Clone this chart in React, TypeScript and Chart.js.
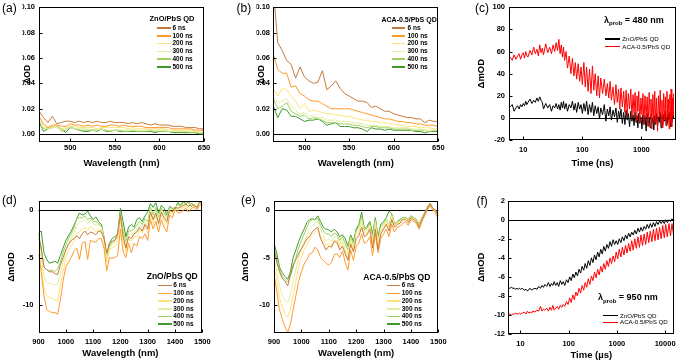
import React, { useEffect, useRef } from "react";
import { Chart, registerables } from "chart.js";

Chart.register(...registerables);

const FONT = "'Liberation Sans', Arial, Helvetica, sans-serif";
Chart.defaults.font.family = FONT;
Chart.defaults.color = "#000";

// ---------------- data ----------------
const delayLabels = ["6 ns", "100 ns", "200 ns", "300 ns", "400 ns", "500 ns"];

const wlVis = [465, 470, 475, 480, 485, 490, 495, 500, 505, 510, 515, 520, 525, 530, 535, 540, 545, 550, 555, 560, 565, 570, 575, 580, 585, 590, 595, 600, 605, 610, 615, 620, 625, 630, 635, 640, 645, 650];

// (a) ZnO/PbS QD, visible
const a6 = [0.018, 0.013, 0.009, 0.014, 0.008, 0.009, 0.010, 0.010, 0.009, 0.010, 0.009, 0.010, 0.009, 0.010, 0.009, 0.009, 0.010, 0.009, 0.009, 0.009, 0.008, 0.009, 0.008, 0.009, 0.008, 0.007, 0.008, 0.007, 0.007, 0.007, 0.006, 0.006, 0.006, 0.005, 0.005, 0.005, 0.004, 0.004];
const a100 = [0.014, 0.008, 0.005, 0.007, 0.007, 0.006, 0.006, 0.008, 0.007, 0.007, 0.006, 0.007, 0.006, 0.007, 0.006, 0.006, 0.007, 0.007, 0.006, 0.007, 0.006, 0.006, 0.006, 0.006, 0.005, 0.005, 0.005, 0.005, 0.005, 0.005, 0.004, 0.004, 0.004, 0.004, 0.004, 0.003, 0.003, 0.003];
const a200 = [0.012, 0.006, 0.004, 0.006, 0.006, 0.004, 0.005, 0.006, 0.006, 0.005, 0.005, 0.005, 0.005, 0.004, 0.005, 0.005, 0.005, 0.005, 0.005, 0.005, 0.004, 0.005, 0.004, 0.004, 0.004, 0.004, 0.004, 0.004, 0.004, 0.003, 0.003, 0.003, 0.003, 0.003, 0.003, 0.002, 0.002, 0.002];
const a300 = [0.011, 0.005, 0.004, 0.005, 0.005, 0.003, 0.004, 0.005, 0.004, 0.004, 0.004, 0.004, 0.003, 0.003, 0.004, 0.003, 0.003, 0.003, 0.003, 0.003, 0.003, 0.003, 0.003, 0.003, 0.003, 0.003, 0.003, 0.003, 0.003, 0.002, 0.002, 0.002, 0.002, 0.002, 0.002, 0.002, 0.001, 0.001];
const a400 = [0.008, 0.004, 0.005, 0.006, 0.006, 0.002, 0.003, 0.006, 0.004, 0.003, 0.003, 0.003, 0.003, 0.003, 0.004, 0.003, 0.002, 0.003, 0.003, 0.002, 0.002, 0.003, 0.002, 0.002, 0.002, 0.003, 0.002, 0.002, 0.002, 0.002, 0.002, 0.002, 0.002, 0.002, 0.001, 0.001, 0.001, 0.001];
const a500 = [0.010, 0.002, 0.004, 0.005, 0.006, 0.004, 0.001, 0.005, 0.004, 0.003, 0.002, 0.002, 0.003, 0.002, 0.004, 0.002, 0.002, 0.003, 0.002, 0.002, 0.002, 0.002, 0.002, 0.002, 0.002, 0.002, 0.001, 0.002, 0.002, 0.002, 0.001, 0.001, 0.001, 0.001, 0.001, 0.001, 0.000, 0.000];

// (b) ACA-0.5/PbS QD, visible
const b6 = [0.115, 0.072, 0.066, 0.058, 0.055, 0.044, 0.053, 0.045, 0.042, 0.040, 0.041, 0.050, 0.035, 0.038, 0.042, 0.036, 0.032, 0.030, 0.028, 0.026, 0.026, 0.025, 0.021, 0.022, 0.020, 0.018, 0.018, 0.016, 0.015, 0.014, 0.013, 0.013, 0.012, 0.012, 0.009, 0.011, 0.010, 0.010];
const b100 = [0.063, 0.051, 0.048, 0.048, 0.037, 0.038, 0.032, 0.030, 0.027, 0.026, 0.026, 0.024, 0.022, 0.020, 0.020, 0.020, 0.020, 0.020, 0.019, 0.018, 0.017, 0.016, 0.015, 0.014, 0.013, 0.012, 0.012, 0.011, 0.010, 0.010, 0.009, 0.009, 0.008, 0.008, 0.007, 0.007, 0.007, 0.006];
const b200 = [0.036, 0.030, 0.036, 0.035, 0.030, 0.026, 0.020, 0.024, 0.018, 0.019, 0.018, 0.017, 0.016, 0.016, 0.015, 0.015, 0.014, 0.014, 0.013, 0.012, 0.011, 0.011, 0.010, 0.010, 0.009, 0.009, 0.008, 0.008, 0.007, 0.007, 0.006, 0.006, 0.006, 0.005, 0.005, 0.005, 0.004, 0.004];
const b300 = [0.029, 0.025, 0.026, 0.028, 0.022, 0.019, 0.016, 0.017, 0.014, 0.015, 0.013, 0.013, 0.011, 0.011, 0.011, 0.010, 0.010, 0.010, 0.009, 0.009, 0.008, 0.007, 0.007, 0.007, 0.006, 0.006, 0.006, 0.005, 0.005, 0.005, 0.005, 0.004, 0.004, 0.004, 0.003, 0.003, 0.003, 0.003];
const b400 = [0.028, 0.020, 0.022, 0.025, 0.018, 0.016, 0.014, 0.015, 0.012, 0.013, 0.012, 0.011, 0.009, 0.009, 0.009, 0.008, 0.008, 0.008, 0.007, 0.007, 0.006, 0.005, 0.006, 0.006, 0.005, 0.005, 0.005, 0.004, 0.004, 0.004, 0.004, 0.003, 0.003, 0.003, 0.003, 0.002, 0.003, 0.003];
const b500 = [0.022, 0.013, 0.020, 0.019, 0.014, 0.014, 0.012, 0.010, 0.011, 0.011, 0.012, 0.010, 0.007, 0.008, 0.009, 0.006, 0.006, 0.006, 0.005, 0.005, 0.004, 0.002, 0.005, 0.004, 0.004, 0.003, 0.004, 0.003, 0.003, 0.003, 0.003, 0.003, 0.002, 0.002, 0.001, 0.002, 0.002, 0.002];

const wlNir = [900, 910, 920, 930, 940, 950, 960, 970, 980, 990, 1000, 1010, 1020, 1030, 1040, 1050, 1060, 1070, 1080, 1090, 1100, 1110, 1120, 1130, 1140, 1150, 1160, 1170, 1180, 1190, 1200, 1210, 1220, 1230, 1240, 1250, 1260, 1270, 1280, 1290, 1300, 1310, 1320, 1330, 1340, 1350, 1360, 1370, 1380, 1390, 1400, 1410, 1420, 1430, 1440, 1450, 1460, 1470, 1480, 1490, 1500];

// (d) ZnO/PbS QD, NIR (mOD)
const d6 = [-2.5, -4.0, -6.0, -6.3, -6.5, -6.5, -6.7, -6.8, -5.8, -5.0, -4.2, -3.6, -3.2, -3.0, -2.7, -3.0, -2.5, -2.2, -2.6, -2.3, -2.4, -2.6, -2.2, -2.3, -3.0, -4.5, -3.5, -3.3, -3.2, -2.5, -0.5, -2.8, -4.0, -2.8, -3.0, -2.5, -2.3, -1.8, -2.2, -1.5, -2.0, -0.2, -1.0, -0.3, -1.4, -0.2, -0.8, -1.2, 0.0, -0.2, 0.3, 0.2, 0.3, 0.5, 0.6, 0.4, 0.7, 0.5, 0.3, 0.8, 0.7];
const d100 = [-4.6, -6.5, -9.0, -10.5, -10.7, -10.8, -10.8, -11.0, -9.5, -7.5, -6.0, -5.5, -5.0, -4.3, -4.0, -5.2, -3.5, -3.3, -5.2, -3.2, -3.3, -3.4, -3.0, -3.0, -4.0, -6.4, -5.0, -5.1, -5.0, -4.8, -2.0, -4.4, -5.0, -3.5, -4.5, -3.5, -3.8, -2.8, -3.0, -2.5, -3.2, -1.0, -2.0, -1.2, -2.3, -1.0, -1.8, -2.3, -0.5, -0.8, 0.0, -0.2, -0.3, 0.0, 0.2, -0.2, 0.2, 0.3, 0.0, 0.5, 0.6];
const d200 = [-4.0, -6.0, -8.2, -9.0, -9.2, -9.3, -9.5, -9.6, -8.0, -6.5, -5.0, -4.3, -3.8, -3.3, -2.5, -2.3, -2.0, -1.8, -2.2, -1.7, -2.0, -2.3, -2.0, -2.2, -3.3, -5.5, -4.2, -4.0, -3.8, -3.5, -1.0, -3.3, -4.3, -3.0, -3.3, -2.8, -2.8, -2.0, -2.4, -1.8, -2.4, -0.5, -1.4, -0.6, -1.6, -0.5, -1.1, -1.5, -0.2, -0.4, 0.1, 0.0, 0.1, 0.3, 0.4, 0.2, 0.5, 0.4, 0.2, 0.7, 0.6];
const d300 = [-3.5, -5.2, -7.0, -7.6, -7.7, -7.8, -7.9, -7.8, -6.8, -5.5, -4.3, -3.5, -3.0, -2.4, -1.6, -1.3, -1.2, -1.0, -1.4, -1.1, -1.4, -1.6, -1.5, -1.8, -3.0, -5.2, -4.0, -3.6, -3.4, -3.0, -0.6, -2.6, -3.7, -2.5, -2.6, -2.3, -2.0, -1.5, -1.8, -1.2, -1.6, 0.0, -0.8, 0.0, -1.0, 0.0, -0.6, -0.9, 0.2, 0.0, 0.4, 0.3, 0.4, 0.6, 0.6, 0.5, 0.7, 0.6, 0.4, 0.8, 0.6];
const d400 = [-3.0, -4.2, -6.0, -6.3, -6.4, -6.3, -6.5, -6.2, -5.5, -4.5, -3.7, -3.0, -2.5, -1.9, -0.9, -0.8, -0.8, -0.6, -1.0, -0.8, -1.2, -1.2, -1.4, -1.7, -2.9, -5.0, -3.8, -3.4, -3.1, -2.8, -0.2, -2.2, -3.3, -2.2, -2.2, -2.0, -1.6, -1.2, -1.5, -0.9, -1.2, 0.3, -0.5, 0.3, -0.7, 0.2, -0.3, -0.7, 0.3, 0.1, 0.3, 0.6, 0.4, 0.8, 0.7, 0.8, 0.5, 0.6, 0.3, 0.9, 0.6];
const d500 = [-2.4, -2.2, -4.5, -5.2, -5.6, -5.5, -5.4, -5.6, -4.8, -4.0, -3.2, -2.7, -2.2, -1.6, -0.9, -0.3, -0.5, -0.4, -0.1, -0.6, -1.0, -0.7, -1.2, -1.5, -2.8, -5.0, -3.5, -3.0, -2.8, -2.5, 0.2, -1.2, -2.8, -1.8, -1.5, -1.8, -1.0, -0.8, -1.2, -0.6, -0.2, 0.7, 0.3, 0.8, -0.3, 0.5, 0.2, -0.5, 0.4, 0.2, 0.1, 0.8, 0.5, 0.9, 0.7, 0.9, 0.4, 0.6, 0.2, 0.9, 0.5];

// (e) ACA-0.5/PbS QD, NIR (mOD)
const e6 = [-4.0, -5.5, -6.5, -7.2, -7.5, -8.0, -6.8, -5.8, -5.2, -4.6, -4.1, -3.6, -3.0, -2.8, -2.3, -2.0, -1.8, -3.0, -3.6, -4.2, -3.8, -3.9, -3.3, -3.4, -4.2, -3.8, -4.6, -5.3, -3.6, -4.4, -3.0, -2.7, -1.8, -2.8, -2.6, -2.0, -4.0, -2.0, -4.2, -2.5, -2.0, -1.5, -2.2, -1.0, -1.8, -1.5, -1.4, -1.0, -1.0, -1.3, -0.8, -1.0, -1.2, -1.8, -1.0, -0.4, 0.2, 0.7, 0.2, 0.0, -0.6];
const e100 = [-6.8, -8.5, -10.5, -11.5, -12.3, -12.9, -12.0, -10.5, -9.0, -7.5, -6.5, -5.7, -5.2, -4.6, -4.5, -3.9, -4.2, -5.0, -5.3, -5.6, -5.8, -5.5, -4.7, -4.6, -5.0, -4.3, -5.5, -6.3, -4.2, -5.3, -3.8, -3.5, -2.5, -3.5, -3.3, -2.8, -4.8, -2.5, -4.5, -3.0, -2.5, -2.0, -2.8, -1.5, -2.3, -1.8, -1.7, -1.4, -1.2, -1.6, -1.0, -1.2, -1.4, -2.0, -1.2, -0.6, 0.0, 0.5, 0.0, -0.3, -1.0];
const e200 = [-6.0, -7.5, -9.2, -10.2, -10.9, -11.3, -10.5, -9.0, -7.5, -6.0, -5.0, -4.2, -3.7, -3.0, -2.7, -2.3, -2.0, -2.7, -3.2, -3.8, -3.5, -3.8, -3.2, -3.2, -3.9, -3.4, -4.3, -5.0, -3.3, -4.2, -2.7, -2.3, -1.3, -2.5, -2.4, -1.8, -3.7, -1.5, -3.8, -2.2, -1.8, -1.2, -1.9, -0.8, -1.6, -1.4, -1.3, -0.9, -0.9, -1.2, -0.7, -0.9, -1.1, -1.7, -0.9, -0.4, 0.1, 0.5, 0.1, -0.2, -0.8];
const e300 = [-5.0, -6.5, -8.0, -9.0, -9.5, -9.8, -8.9, -7.5, -6.3, -5.0, -4.0, -3.3, -2.7, -2.0, -1.6, -1.4, -1.2, -2.0, -2.6, -3.3, -3.0, -3.3, -2.8, -2.9, -3.6, -3.0, -4.0, -4.6, -3.0, -3.9, -2.4, -2.0, -1.0, -2.3, -2.1, -1.6, -3.3, -1.2, -3.4, -1.9, -1.6, -1.0, -1.7, -0.6, -1.6, -1.3, -1.2, -0.9, -0.9, -1.1, -0.7, -0.9, -1.1, -1.6, -0.9, -0.4, 0.2, 0.6, 0.1, -0.1, -0.7];
const e400 = [-4.0, -5.0, -6.3, -7.0, -7.3, -7.6, -7.0, -6.0, -5.0, -4.0, -3.2, -2.5, -1.8, -1.2, -1.0, -1.0, -0.9, -1.6, -2.2, -2.5, -2.5, -2.8, -2.4, -2.6, -3.2, -2.8, -3.5, -4.2, -2.8, -3.6, -2.2, -1.7, -0.6, -2.1, -1.9, -1.4, -2.9, -1.0, -3.1, -1.7, -1.4, -0.9, -1.6, -0.4, -1.5, -1.2, -1.1, -0.8, -0.8, -1.0, -0.6, -0.8, -1.0, -1.5, -0.8, -0.3, 0.2, 0.6, 0.1, 0.0, -0.6];
const e500 = [-3.5, -4.5, -6.0, -6.6, -7.0, -7.3, -6.5, -5.0, -4.2, -3.3, -2.6, -2.0, -1.3, -1.0, -0.9, -1.0, -0.6, -1.2, -1.8, -2.0, -2.1, -2.3, -2.0, -2.3, -2.8, -2.6, -3.0, -3.8, -2.6, -3.3, -2.0, -1.5, -0.2, -2.0, -1.7, -1.2, -2.5, -0.8, -2.8, -1.5, -1.2, -0.8, -0.1, -0.4, -1.5, -1.2, -1.0, -0.8, -0.8, -1.0, -0.6, -0.8, -1.0, -1.5, -0.8, -0.3, 0.3, 0.7, 0.2, 0.0, -0.5];

// (c) kinetics at 480 nm (ns, mOD)
const timeNs = [6, 6.5, 7, 7.5, 8, 8.5, 9, 9.5, 10, 10.5, 11, 11.5, 12, 13, 14, 15, 16, 17, 18, 19, 20, 21, 22, 24, 26, 28, 30, 32, 34, 36, 38, 40, 42, 44, 46, 48, 50, 53, 56, 60, 64, 68, 72, 76, 80, 85, 90, 95, 100, 106, 112, 118, 125, 132, 140, 148, 156, 165, 175, 185, 195, 205, 220, 235, 250, 265, 280, 295, 310, 330, 350, 370, 390, 410, 430, 450, 475, 500, 525, 550, 575, 600, 630, 660, 690, 720, 750, 780, 810, 840, 870, 900, 940, 980, 1020, 1060, 1100, 1150, 1200, 1250, 1300, 1350, 1400, 1450, 1500, 1560, 1620, 1680, 1740, 1800, 1870, 1940, 2010, 2080, 2150, 2220, 2300, 2380, 2460, 2540, 2620, 2700, 2780, 2860, 2940, 3020, 3100, 3180, 3260, 3340, 3420, 3500];
const kinZnO480 = [10, 12, 6, 9, 11, 8, 12, 10, 13, 11, 15, 12, 14, 17, 13, 16, 14, 18, 15, 19, 16, 14, 8, 13, 9, 12, 6, 11, 9, 13, 8, 12, 7, 14, 9, 15, 8, 13, 6, 12, 9, 15, 7, 13, 5, 14, 8, 12, 4, 13, 6, 15, 3, 12, 5, 14, 2, 11, 4, 10, -1, 9, 3, 12, -3, 8, 2, 10, -2, 7, 1, 9, -4, 6, 0, 8, -5, 5, -6, 7, -2, 4, -8, 6, -3, 3, -7, 5, -4, 2, -9, 4, -5, 1, -10, 3, -6, 2, -12, 4, -7, 1, -9, 3, -5, 0, -11, 2, -6, 4, -8, 1, -4, 5, -9, 2, -6, 3, -3, 6, -7, 1, -5, 4, -2, 5, -8, 2, -4, 6, -1, 3];
const kinACA480 = [55, 52, 57, 53, 56, 58, 53, 57, 59, 54, 60, 56, 55, 61, 57, 64, 58, 62, 56, 66, 59, 63, 57, 67, 59, 64, 58, 66, 60, 68, 61, 71, 58, 66, 55, 64, 52, 60, 45, 56, 40, 54, 38, 50, 35, 49, 33, 46, 30, 50, 28, 46, 24, 44, 22, 47, 25, 40, 20, 38, 18, 36, 22, 35, 20, 31, 18, 33, 16, 28, 12, 30, 14, 26, 8, 27, 10, 24, 5, 25, 2, 22, 8, 26, 0, 21, 4, 23, -2, 20, 6, 24, -4, 18, 3, 22, -6, 20, 0, 19, -8, 23, 2, 17, -10, 21, -3, 24, -5, 18, -12, 20, 1, 25, -6, 16, -9, 22, -2, 19, -7, 24, 0, 17, -10, 21, -4, 26, -8, 18, 2, 22];

// (f) kinetics at 950 nm (µs, mOD)
const timeUs = [5.5, 6, 6.5, 7, 7.5, 8, 8.5, 9, 9.5, 10, 11, 12, 13, 14, 15, 16, 17, 18, 20, 22, 24, 26, 28, 30, 32, 35, 38, 41, 44, 47, 50, 54, 58, 62, 67, 72, 77, 83, 90, 97, 105, 113, 122, 131, 141, 152, 164, 177, 190, 205, 220, 237, 255, 275, 296, 319, 343, 370, 398, 429, 462, 497, 535, 576, 620, 668, 719, 774, 834, 898, 967, 1040, 1120, 1210, 1300, 1400, 1510, 1620, 1750, 1880, 2030, 2180, 2350, 2530, 2730, 2940, 3160, 3400, 3670, 3950, 4250, 4580, 4930, 5310, 5720, 6160, 6630, 7140, 7690, 8280, 8920, 9600, 10300, 11100, 12000, 12900, 13900, 15000];
const kinZnO950 = [-7.1, -7.2, -7.1, -7.2, -7.2, -7.3, -7.2, -7.3, -7.2, -7.3, -7.2, -7.4, -7.3, -7.5, -7.3, -7.2, -7.4, -7.3, -7.2, -7.3, -7.0, -7.2, -6.9, -7.1, -6.8, -7.0, -6.6, -7.0, -6.7, -6.9, -6.5, -6.9, -6.6, -7.0, -6.4, -6.8, -6.5, -6.9, -6.3, -6.6, -6.0, -6.4, -5.7, -6.1, -5.5, -5.9, -5.2, -5.6, -4.9, -5.3, -4.6, -5.1, -4.3, -4.8, -4.0, -4.5, -3.7, -4.2, -3.4, -3.9, -3.1, -3.6, -2.8, -3.3, -2.6, -3.0, -2.3, -2.8, -2.1, -2.6, -2.2, -2.6, -2.0, -2.4, -1.8, -2.2, -1.6, -2.0, -1.4, -1.8, -1.3, -1.6, -1.1, -1.5, -0.9, -1.3, -0.8, -1.2, -0.7, -1.0, -0.5, -0.9, -0.4, -0.8, -0.3, -0.7, -0.2, -0.5, -0.1, -0.4, -0.1, -0.4, 0.0, -0.3, 0.0, -0.2, 0.1, -0.1];
const kinACA950 = [-9.9, -9.9, -10.0, -9.9, -9.9, -9.8, -9.9, -9.9, -9.8, -9.9, -9.8, -9.7, -9.9, -9.6, -9.8, -9.7, -9.8, -9.6, -9.7, -9.5, -9.6, -9.1, -9.6, -9.4, -9.5, -9.3, -9.6, -9.2, -9.5, -9.0, -9.5, -9.3, -9.1, -9.4, -9.0, -9.2, -8.9, -9.1, -8.6, -8.9, -8.2, -8.7, -7.9, -8.4, -7.6, -8.0, -7.2, -7.7, -6.9, -7.4, -6.6, -7.1, -6.2, -6.8, -5.9, -6.4, -5.5, -6.1, -5.2, -5.8, -4.9, -5.5, -4.6, -5.2, -4.3, -4.9, -4.0, -4.6, -3.8, -4.4, -3.4, -4.1, -3.1, -3.9, -2.9, -3.7, -2.7, -3.5, -2.5, -3.3, -2.2, -3.2, -2.0, -3.0, -1.8, -2.9, -1.6, -2.7, -1.5, -2.6, -1.3, -2.4, -1.2, -2.3, -1.0, -2.2, -0.9, -2.1, -0.8, -2.0, -0.6, -1.9, -0.5, -1.8, -0.4, -1.7, -0.4, -1.7];

// ticks
const visWlTicks = [500, 550, 600, 650];
const visWlLabels = ["500", "550", "600", "650"];
const odTicks = [0, 0.02, 0.04, 0.06, 0.08, 0.1];
const odLabels = ["0.00", "0.02", "0.04", "0.06", "0.08", "0.10"];
const nirWlTicks = [900, 1000, 1100, 1200, 1300, 1400, 1500];
const nirWlLabels = ["900", "1000", "1100", "1200", "1300", "1400", "1500"];
const nirTicks = [-10, -5, 0];
const nirLabels = ["-10", "-5", "0"];
const nsTicks = [10, 100, 1000];
const nsLabels = ["10", "100", "1000"];
const c480Ticks = [-20, 0, 20, 40, 60, 80, 100];
const c480Labels = ["-20", "0", "20", "40", "60", "80", "100"];
const usTicks = [10, 100, 1000, 10000];
const usLabels = ["10", "100", "1000", "10000"];
const f950Ticks = [-12, -10, -8, -6, -4, -2, 0, 2];
const f950Labels = ["-12", "-10", "-8", "-6", "-4", "-2", "0", "2"];

// ---------------- styles ----------------
const delayColors = ["#c47b3e", "#ff9a2c", "#ffe27a", "#e3efa0", "#9fcf62", "#3e9a2c"];
const ZNO = "ZnO/PbS QD";
const ACA = "ACA-0.5/PbS QD";

type Series = { label: string; color: string; y: number[]; order?: number };
type Spec = {
  left: number; top: number; w: number; h: number;
  pad: { left: number; right: number; top: number; bottom: number };
  yW: number; xH: number; yTickPad: number; xTickPad: number; yTitleSize: number;
  xType: "linear" | "logarithmic";
  xMin: number; xMax: number; yMin: number; yMax: number;
  xTicks: number[]; xLabels: string[]; yTicks: number[]; yLabels: string[];
  xTitle: string; yTitle: string; x: number[]; series: Series[];
};

const delaySeries = (ys: number[][]): Series[] =>
  ys.map((y, i) => ({ label: delayLabels[i], color: delayColors[i], y }));

const specs: Spec[] = [
  {
    left: 0, top: 0, w: 225, h: 180,
    pad: { left: 22.5, right: 21, top: 7.3, bottom: 11.3 }, yW: 16.5, xH: 27.2, yTickPad: 4, xTickPad: 2, yTitleSize: 8.5,
    xType: "linear", xMin: 465, xMax: 650, yMin: -0.006, yMax: 0.1,
    xTicks: visWlTicks, xLabels: visWlLabels, yTicks: odTicks, yLabels: odLabels,
    xTitle: "Wavelength (nm)", yTitle: "\u0394OD", x: wlVis,
    series: delaySeries([a6, a100, a200, a300, a400, a500]),
  },
  {
    left: 225, top: 0, w: 225, h: 180,
    pad: { left: 31.5, right: 11.7, top: 7.3, bottom: 11.3 }, yW: 16.8, xH: 27, yTickPad: 3.3, xTickPad: 2, yTitleSize: 8.5,
    xType: "linear", xMin: 465, xMax: 650, yMin: -0.006, yMax: 0.1,
    xTicks: visWlTicks, xLabels: visWlLabels, yTicks: odTicks, yLabels: odLabels,
    xTitle: "Wavelength (nm)", yTitle: "\u0394OD", x: wlVis,
    series: delaySeries([b6, b100, b200, b300, b400, b500]),
  },
  {
    left: 450, top: 0, w: 228, h: 180,
    pad: { left: 26, right: 2.3, top: 7.3, bottom: 11.3 }, yW: 33.3, xH: 28.7, yTickPad: 4.3, xTickPad: 5, yTitleSize: 9.5,
    xType: "logarithmic", xMin: 5.8, xMax: 3800, yMin: -20, yMax: 100,
    xTicks: nsTicks, xLabels: nsLabels, yTicks: c480Ticks, yLabels: c480Labels,
    xTitle: "Time (ns)", yTitle: "\u0394mOD", x: timeNs,
    series: [
      { label: ZNO, color: "#000000", y: kinZnO480, order: 1 },
      { label: ACA, color: "#ff0000", y: kinACA480, order: 0 },
    ],
  },
  {
    left: 0, top: 180, w: 225, h: 183,
    pad: { left: 6, right: 22.7, top: 20.7, bottom: 4 }, yW: 32.5, xH: 25.7, yTickPad: 5, xTickPad: 4, yTitleSize: 9.5,
    xType: "linear", xMin: 900, xMax: 1500, yMin: -13, yMax: 1,
    xTicks: nirWlTicks, xLabels: nirWlLabels, yTicks: nirTicks, yLabels: nirLabels,
    xTitle: "Wavelength (nm)", yTitle: "\u0394mOD", x: wlNir,
    series: delaySeries([d6, d100, d200, d300, d400, d500]),
  },
  {
    left: 225, top: 180, w: 225, h: 183,
    pad: { left: 14.3, right: 11.7, top: 20.7, bottom: 4 }, yW: 34.7, xH: 25.7, yTickPad: 4, xTickPad: 4, yTitleSize: 9.5,
    xType: "linear", xMin: 900, xMax: 1500, yMin: -13, yMax: 1,
    xTicks: nirWlTicks, xLabels: nirWlLabels, yTicks: nirTicks, yLabels: nirLabels,
    xTitle: "Wavelength (nm)", yTitle: "\u0394mOD", x: wlNir,
    series: delaySeries([e6, e100, e200, e300, e400, e500]),
  },
  {
    left: 450, top: 180, w: 228, h: 183,
    pad: { left: 26, right: 3.7, top: 20.7, bottom: 1.6 }, yW: 32.3, xH: 27.4, yTickPad: 3.3, xTickPad: 5, yTitleSize: 9.5,
    xType: "logarithmic", xMin: 5.6, xMax: 15500, yMin: -12, yMax: 2,
    xTicks: usTicks, xLabels: usLabels, yTicks: f950Ticks, yLabels: f950Labels,
    xTitle: "Time (\u00b5s)", yTitle: "\u0394mOD", x: timeUs,
    series: [
      { label: ZNO, color: "#000000", y: kinZnO950, order: 1 },
      { label: ACA, color: "#ff0000", y: kinACA950, order: 0 },
    ],
  },
];

const tickFont = { family: FONT, size: 7.5, weight: "bold" as const };
const titleFont = { family: FONT, size: 9.5, weight: "bold" as const };

const framePlugin = {
  id: "originFrame",
  beforeDatasetsDraw(chart: any) {
    const { ctx, chartArea: a, scales } = chart;
    const y0 = Math.round(scales.y.getPixelForValue(0)) + 0.5;
    ctx.save();
    ctx.strokeStyle = "#000";
    ctx.lineWidth = 1;
    ctx.beginPath();
    ctx.moveTo(a.left, y0);
    ctx.lineTo(a.right, y0);
    ctx.stroke();
    ctx.restore();
  },
  afterDatasetsDraw(chart: any) {
    const { ctx, chartArea: a, scales } = chart;
    ctx.save();
    ctx.strokeStyle = "#000";
    ctx.lineWidth = 1;
    const l = Math.round(a.left) + 0.5, r = Math.round(a.right) - 0.5;
    const t = Math.round(a.top) + 0.5, b = Math.round(a.bottom) - 0.5;
    ctx.strokeRect(l, t, r - l, b - t);
    ctx.beginPath();
    for (const tk of scales.x.ticks) {
      const px = Math.round(scales.x.getPixelForValue(tk.value)) + 0.5;
      ctx.moveTo(px, b);
      ctx.lineTo(px, b - 3);
    }
    for (const tk of scales.y.ticks) {
      const py = Math.round(scales.y.getPixelForValue(tk.value)) + 0.5;
      ctx.moveTo(l, py);
      ctx.lineTo(l + 3, py);
    }
    ctx.stroke();
    ctx.restore();
  },
};

function buildConfig(p: Spec): any {
  return {
    type: "line",
    data: {
      datasets: p.series.map((s) => ({
        label: s.label,
        data: p.x.map((xv, i) => ({ x: xv, y: s.y[i] })),
        borderColor: s.color,
        borderWidth: 1,
        pointRadius: 0,
        fill: false,
        tension: 0,
        order: s.order ?? 0,
      })),
    },
    options: {
      responsive: false,
      animation: false,
      events: [],
      layout: { padding: p.pad },
      plugins: { legend: { display: false }, tooltip: { enabled: false } },
      scales: {
        x: {
          type: p.xType, min: p.xMin, max: p.xMax, bounds: "data",
          grid: { display: false, drawTicks: false },
          border: { display: false },
          ticks: {
            padding: p.xTickPad, font: tickFont, color: "#000", autoSkip: false, maxRotation: 0, minRotation: 0,
            callback: (_v: any, i: number) => p.xLabels[i],
          },
          title: { display: true, text: p.xTitle, font: titleFont, color: "#000", padding: 0 },
          afterBuildTicks: (s: any) => { s.ticks = p.xTicks.map((v) => ({ value: v })); },
          afterFit: (s: any) => { s.height = p.xH; s.paddingLeft = 0; s.paddingRight = 0; },
        },
        y: {
          type: "linear", min: p.yMin, max: p.yMax, bounds: "data",
          grid: { display: false, drawTicks: false },
          border: { display: false },
          ticks: {
            padding: p.yTickPad, font: tickFont, color: "#000", autoSkip: false,
            callback: (_v: any, i: number) => p.yLabels[i],
          },
          title: { display: true, text: p.yTitle, font: { ...titleFont, size: p.yTitleSize }, color: "#000", padding: 0 },
          afterBuildTicks: (s: any) => { s.ticks = p.yTicks.map((v) => ({ value: v })); },
          afterFit: (s: any) => { s.width = p.yW; s.paddingTop = 0; s.paddingBottom = 0; },
        },
      },
    },
    plugins: [framePlugin],
  };
}

function ChartPanel({ p }: { p: Spec }) {
  const ref = useRef<HTMLCanvasElement | null>(null);
  useEffect(() => {
    if (!ref.current) return;
    const chart = new Chart(ref.current, buildConfig(p));
    return () => chart.destroy();
  }, [p]);
  return (
    <canvas
      ref={ref}
      width={p.w}
      height={p.h}
      style={{ position: "absolute", left: p.left, top: p.top, width: p.w, height: p.h }}
    />
  );
}

function T({ x, y, s, b = true, children }: { x: number; y: number; s: number; b?: boolean; children: any }) {
  return (
    <div
      style={{
        position: "absolute", left: x, top: y - s * 0.5, fontSize: s, lineHeight: `${s}px`,
        fontWeight: b ? 700 : 400, whiteSpace: "nowrap", color: "#000",
      }}
    >
      {children}
    </div>
  );
}

function Ln({ x1, x2, y, c, w = 1.5 }: { x1: number; x2: number; y: number; c: string; w?: number }) {
  return <div style={{ position: "absolute", left: x1, top: y - w / 2, width: x2 - x1, height: w, background: c }} />;
}

function DelayLegend({ title, tx, ty, ts, lx1, lx2, txt, y0, dy, es }: any) {
  return (
    <>
      <T x={tx} y={ty} s={ts}>{title}</T>
      {delayLabels.map((lab, i) => (
        <React.Fragment key={lab}>
          <Ln x1={lx1} x2={lx2} y={y0 + i * dy} c={delayColors[i]} />
          <T x={txt} y={y0 + i * dy} s={es}>{lab}</T>
        </React.Fragment>
      ))}
    </>
  );
}

function Lambda({ x, y, value }: { x: number; y: number; value: string }) {
  return (
    <T x={x} y={y} s={9}>
      {"\u03bb"}
      <span style={{ fontSize: 6, position: "relative", top: 2.5 }}>prob</span>
      {` = ${value}`}
    </T>
  );
}

export default function App() {
  const panelLabel = (t: string, x: number, y: number) => (
    <div key={t} style={{ position: "absolute", left: x, top: y, fontSize: 12, lineHeight: "12px", whiteSpace: "nowrap", color: "#000" }}>{t}</div>
  );
  return (
    <div style={{ position: "absolute", left: 0, top: 0, width: 678, height: 363, background: "#fff", fontFamily: FONT, overflow: "hidden" }}>
      {specs.map((p, i) => <ChartPanel key={i} p={p} />)}
      {panelLabel("(a)", 2, 1.7)}
      {panelLabel("(b)", 236.5, 1.7)}
      {panelLabel("(c)", 475, 1.7)}
      {panelLabel("(d)", 2, 194)}
      {panelLabel("(e)", 241, 194)}
      {panelLabel("(f)", 476.5, 194.5)}

      <DelayLegend title={ZNO} tx={149.5} ty={19} ts={7.5} lx1={156.7} lx2={170.7} txt={172.5} y0={28} dy={7.8} es={6.5} />
      <DelayLegend title={ACA} tx={381.5} ty={19} ts={7} lx1={391.7} lx2={405} txt={407.5} y0={28} dy={7.8} es={6.5} />
      <DelayLegend title={ZNO} tx={146.7} ty={276.7} ts={8.5} lx1={158.3} lx2={171.7} txt={173.3} y0={285.7} dy={7.7} es={6.5} />
      <DelayLegend title={ACA} tx={363.3} ty={277.7} ts={8.5} lx1={386.7} lx2={400} txt={401.7} y0={285.7} dy={7.7} es={6.5} />

      <Lambda x={604} y={20} value="480 nm" />
      <Ln x1={605} x2={620} y={39} c="#000" />
      <T x={622.3} y={39} s={6.2} b={false}>{ZNO}</T>
      <Ln x1={605} x2={620} y={46.7} c="#ff0000" />
      <T x={622.3} y={46.7} s={6.2} b={false}>{ACA}</T>

      <Lambda x={598} y={297.7} value="950 nm" />
      <Ln x1={603.3} x2={618.3} y={315.7} c="#000" />
      <T x={620} y={315.7} s={6.2} b={false}>{ZNO}</T>
      <Ln x1={603.3} x2={618.3} y={322.3} c="#ff0000" />
      <T x={620} y={322.3} s={6.2} b={false}>{ACA}</T>
    </div>
  );
}
